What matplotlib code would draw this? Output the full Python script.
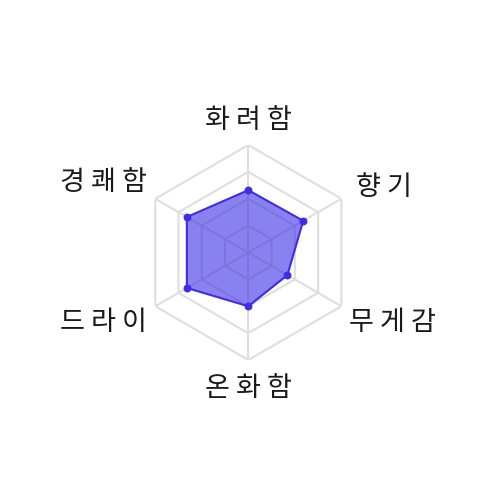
import matplotlib
matplotlib.use("Agg")
import matplotlib.pyplot as plt
import numpy as np

plt.rcParams['font.family'] = ['Noto Sans CJK KR', 'DejaVu Sans']

labels = ['화려함', '향기', '무게감', '온화함', '드라이', '경쾌함']
values = [58, 59, 42, 50, 66, 66]
levels = [25, 50, 75, 100]

# label offsets from outer vertex, in pixels (dx, dy), and alignment
label_offsets = [(0, 24), (15, 11), (8, -16), (0, -29), (-8, -16), (-8, 16)]
label_ha = ['center', 'left', 'left', 'center', 'right', 'right']

line_color = '#3d2ee6'
grid_color = '#dedede'

n = len(labels)
angles = np.linspace(0, 2 * np.pi, n, endpoint=False)
ang_c = np.append(angles, angles[0])

fig = plt.figure(figsize=(5, 5), dpi=100)
ax = fig.add_axes([0.4966 - 0.215, 0.495 - 0.215, 0.43, 0.43], projection='polar')
ax.set_theta_offset(np.pi / 2)
ax.set_theta_direction(-1)
ax.set_ylim(0, 100)
ax.axis('off')

# hexagon grid
for lv in levels:
    ax.plot(ang_c, [lv] * (n + 1), color=grid_color, lw=1.5, zorder=1)
for a in angles:
    ax.plot([a, a], [0, 100], color=grid_color, lw=1.5, zorder=1)

v = values + values[:1]
ax.fill(ang_c, v, color=line_color, alpha=0.6, lw=0, zorder=2)
ax.plot(ang_c, v, color=line_color, lw=1.5, zorder=3)
ax.scatter(angles, values, s=22, color=line_color, zorder=4)

for a, lab, off, ha in zip(angles, labels, label_offsets, label_ha):
    ax.annotate(' '.join(lab), xy=(a, 100), xytext=off, textcoords='offset pixels',
                ha=ha, va='center', fontsize=19.5, color='#1a1a1a',
                fontweight='light', annotation_clip=False)

fig.savefig('out.png', dpi=100)
